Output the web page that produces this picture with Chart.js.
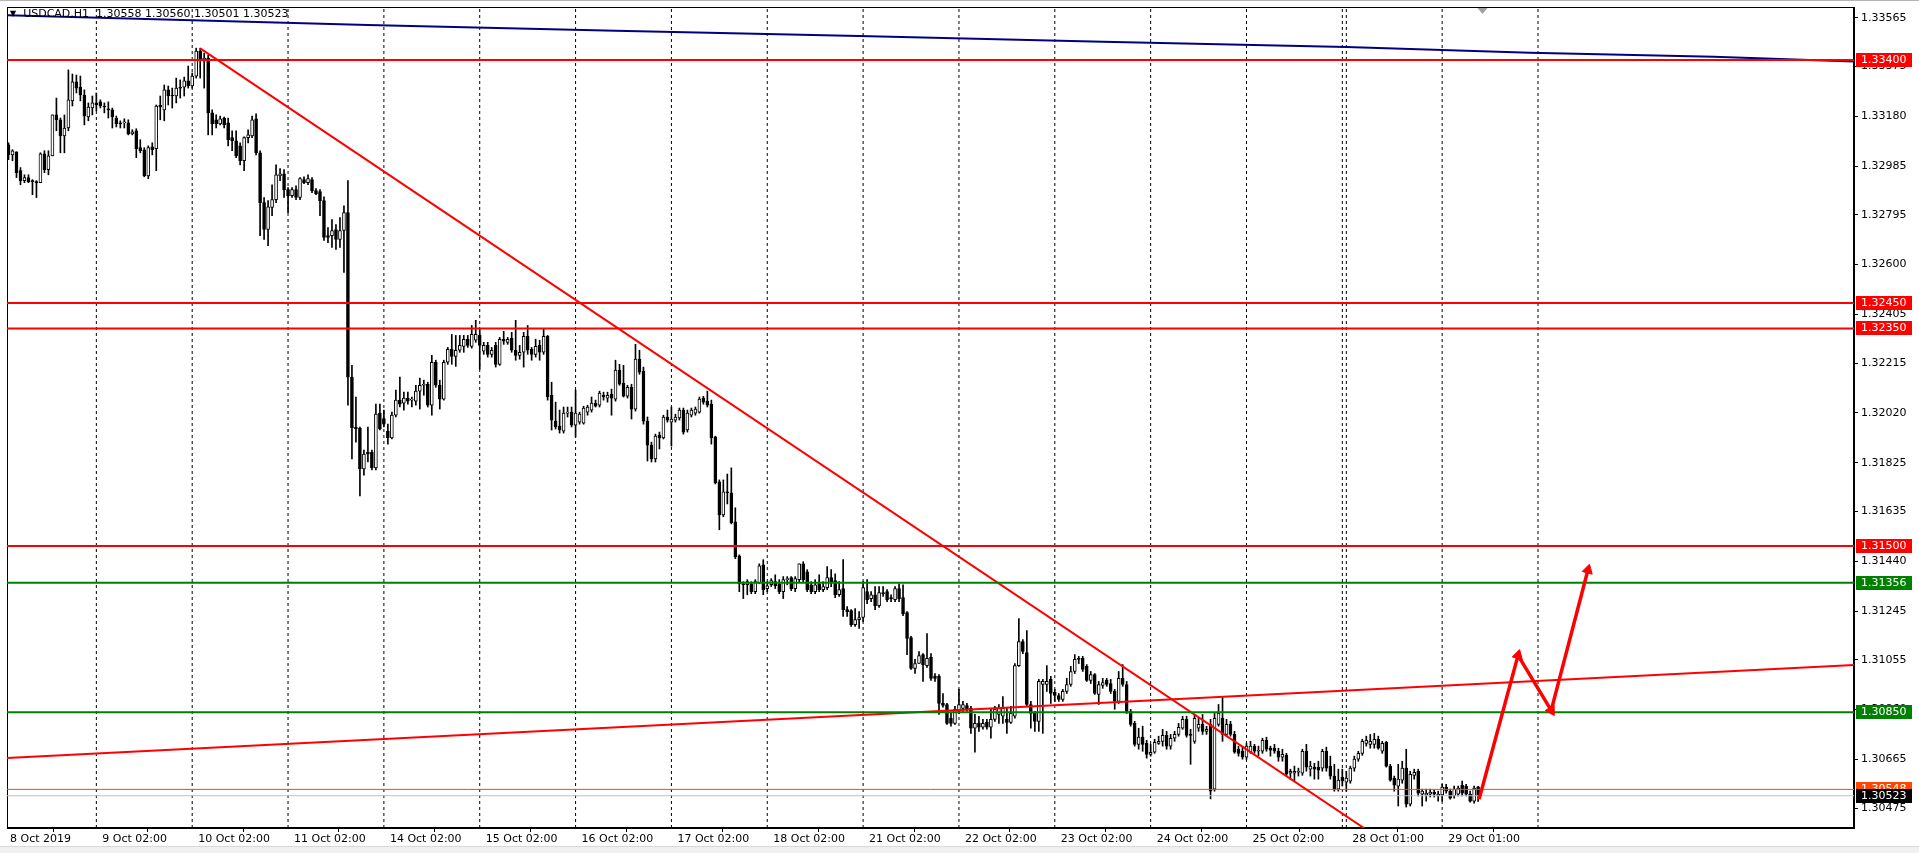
<!DOCTYPE html>
<html>
<head>
<meta charset="utf-8">
<script src="https://cdn.jsdelivr.net/npm/chart.js@4.4.0/dist/chart.umd.min.js"></script>
<style>
  html, body { margin: 0; padding: 0; background: #fff; }
  #wrap { position: relative; width: 1919px; height: 853px; overflow: hidden; }
  #title { position: absolute; left: 10px; top: 7px; font: 11px "DejaVu Sans"; color: #000; white-space: pre; line-height: 13px; }
  #title .tri { font-size: 8px; vertical-align: 1px; }
  #topline { position: absolute; left: 0; top: 0; width: 1919px; height: 1px; background: #b4b4b4; }
  #bottom { position: absolute; left: 0; top: 846px; width: 1919px; height: 7px; background: #f0f0f0; border-top: 1px solid #d8d8d8; }
</style>
</head>
<body>
<div id="wrap">
  <canvas id="chart" width="1919" height="853"></canvas>
  <div id="topline"></div>
  <div id="bottom"></div>
  <div id="title"><span class="tri">▼</span>  USDCAD,H1  1.30558 1.30560 1.30501 1.30523</div>
</div>
<script>
// USDCAD H1, 8 Oct 2019 02:00 .. 29 Oct 2019 (one entry per hourly bar)
const opens = [
1.33068,1.33029,1.33041,1.32967,1.32928,1.32940,1.32928,1.32924,1.32920,1.33033,
1.32971,1.33025,1.33185,1.33166,1.33103,1.33134,1.33240,1.33314,1.33294,1.33263,
1.33177,1.33212,1.33232,1.33236,1.33220,1.33209,1.33205,1.33173,1.33154,1.33154,
1.33154,1.33111,1.33123,1.33057,1.33049,1.32947,1.33060,1.33053,1.33224,1.33205,
1.33283,1.33263,1.33259,1.33294,1.33294,1.33318,1.33298,1.33337,1.33435,1.33396,
1.33407,1.33193,1.33166,1.33150,1.33173,1.33154,1.33096,1.33084,1.33064,1.33006,
1.33096,1.33103,1.33170,1.33037,1.32842,1.32737,1.32823,1.32854,1.32947,1.32955,
1.32893,1.32869,1.32893,1.32862,1.32932,1.32920,1.32932,1.32889,1.32885,1.32850,
1.32713,1.32713,1.32737,1.32698,1.32733,1.32803,1.32160,1.31965,1.31961,1.31801,
1.31867,1.31867,1.31805,1.32019,1.31998,1.31949,1.31922,1.32011,1.32070,1.32058,
1.32078,1.32070,1.32066,1.32105,1.32128,1.32132,1.32050,1.32218,1.32128,1.32074,
1.32218,1.32269,1.32241,1.32265,1.32280,1.32308,1.32280,1.32304,1.32323,1.32261,
1.32284,1.32249,1.32284,1.32210,1.32308,1.32296,1.32312,1.32265,1.32245,1.32257,
1.32319,1.32269,1.32249,1.32284,1.32257,1.32319,1.32089,1.31988,1.31968,1.31949,
1.32019,1.32023,1.31972,1.31984,1.31980,1.32023,1.32031,1.32058,1.32050,1.32089,
1.32078,1.32093,1.32074,1.32187,1.32136,1.32085,1.32120,1.32035,1.32230,1.32183,
1.31988,1.31894,1.31840,1.31933,1.31922,1.32004,1.31984,1.31992,1.32000,1.32031,
1.31953,1.32011,1.32019,1.32023,1.32078,1.32066,1.32054,1.31926,1.31750,1.31621,
1.31711,1.31707,1.31594,1.31461,1.31352,1.31348,1.31352,1.31321,1.31356,1.31426,
1.31333,1.31348,1.31360,1.31352,1.31321,1.31368,1.31376,1.31333,1.31368,1.31430,
1.31399,1.31348,1.31321,1.31352,1.31329,1.31337,1.31376,1.31364,1.31309,1.31333,
1.31251,1.31247,1.31192,1.31212,1.31220,1.31321,1.31294,1.31309,1.31266,1.31317,
1.31321,1.31298,1.31290,1.31333,1.31298,1.31239,1.31142,1.31021,1.31040,1.31075,
1.31032,1.31064,1.30990,1.30990,1.30884,1.30880,1.30826,1.30806,1.30853,1.30865,
1.30876,1.30865,1.30787,1.30806,1.30791,1.30810,1.30791,1.30822,1.30841,1.30834,
1.30822,1.30810,1.30834,1.31032,1.31126,1.31083,1.30880,1.30845,1.30814,1.30958,
1.30958,1.30978,1.30927,1.30915,1.30900,1.30931,1.30958,1.31009,1.31060,1.31060,
1.31029,1.30974,1.30997,1.30919,1.30954,1.30974,1.30962,1.30931,1.30892,1.30982,
1.30958,1.30853,1.30806,1.30724,1.30752,1.30728,1.30685,1.30693,1.30728,1.30736,
1.30759,1.30717,1.30748,1.30763,1.30787,1.30822,1.30763,1.30736,1.30787,1.30802,
1.30775,1.30802,1.30549,1.30802,1.30826,1.30763,1.30802,1.30763,1.30705,1.30697,
1.30674,1.30693,1.30717,1.30697,1.30697,1.30740,1.30709,1.30709,1.30697,1.30674,
1.30681,1.30611,1.30611,1.30615,1.30611,1.30697,1.30627,1.30635,1.30635,1.30631,
1.30697,1.30639,1.30600,1.30549,1.30596,1.30576,1.30580,1.30631,1.30666,1.30689,
1.30728,1.30724,1.30724,1.30744,1.30697,1.30732,1.30639,1.30592,1.30561,1.30584,
1.30631,1.30490,1.30603,1.30619,1.30529,1.30526,1.30529,1.30537,1.30522,1.30526,
1.30557,1.30541,1.30522,1.30529,1.30564,1.30561,1.30529,1.30502,1.30558
];
const highs = [
1.33076,1.33049,1.33041,1.32979,1.32951,1.32951,1.32932,1.32928,1.33037,1.33045,
1.33045,1.33185,1.33251,1.33173,1.33185,1.33361,1.33345,1.33341,1.33337,1.33283,
1.33232,1.33259,1.33271,1.33244,1.33232,1.33236,1.33212,1.33181,1.33162,1.33170,
1.33166,1.33127,1.33131,1.33088,1.33057,1.33064,1.33076,1.33224,1.33259,1.33302,
1.33298,1.33290,1.33329,1.33322,1.33333,1.33376,1.33349,1.33446,1.33446,1.33427,
1.33419,1.33205,1.33185,1.33181,1.33177,1.33173,1.33123,1.33123,1.33076,1.33099,
1.33127,1.33181,1.33189,1.33045,1.32862,1.32850,1.32912,1.32990,1.32975,1.32971,
1.32901,1.32901,1.32908,1.32940,1.32943,1.32951,1.32940,1.32897,1.32893,1.32865,
1.32745,1.32776,1.32756,1.32784,1.32830,1.32928,1.32206,1.32082,1.31965,1.31875,
1.31965,1.31875,1.32054,1.32054,1.32031,1.31976,1.32023,1.32109,1.32160,1.32101,
1.32101,1.32082,1.32128,1.32156,1.32148,1.32140,1.32245,1.32226,1.32148,1.32226,
1.32276,1.32327,1.32323,1.32323,1.32323,1.32323,1.32362,1.32382,1.32347,1.32296,
1.32296,1.32276,1.32296,1.32315,1.32339,1.32315,1.32335,1.32382,1.32284,1.32335,
1.32362,1.32276,1.32308,1.32304,1.32347,1.32323,1.32140,1.32062,1.32031,1.32043,
1.32043,1.32043,1.32109,1.32023,1.32046,1.32050,1.32082,1.32070,1.32105,1.32101,
1.32101,1.32113,1.32226,1.32210,1.32206,1.32128,1.32132,1.32288,1.32265,1.32199,
1.32004,1.31906,1.31937,1.31945,1.32011,1.32031,1.32043,1.32015,1.32039,1.32039,
1.32031,1.32039,1.32043,1.32082,1.32085,1.32105,1.32070,1.31929,1.31758,1.31758,
1.31781,1.31805,1.31649,1.31465,1.31360,1.31368,1.31360,1.31368,1.31430,1.31446,
1.31360,1.31372,1.31387,1.31368,1.31380,1.31380,1.31380,1.31380,1.31430,1.31438,
1.31407,1.31360,1.31368,1.31387,1.31360,1.31419,1.31407,1.31391,1.31360,1.31446,
1.31263,1.31251,1.31255,1.31243,1.31360,1.31368,1.31321,1.31341,1.31341,1.31341,
1.31329,1.31309,1.31341,1.31352,1.31348,1.31243,1.31146,1.31056,1.31087,1.31079,
1.31157,1.31079,1.31001,1.30997,1.30923,1.30884,1.30845,1.30873,1.30939,1.30892,
1.30884,1.30873,1.30841,1.30834,1.30822,1.30822,1.30865,1.30873,1.30880,1.30911,
1.30865,1.30873,1.31040,1.31216,1.31134,1.31169,1.30892,1.30853,1.30978,1.30978,
1.31032,1.30990,1.30939,1.30923,1.30939,1.30982,1.31029,1.31075,1.31068,1.31068,
1.31036,1.31009,1.31001,1.30970,1.30982,1.30982,1.30978,1.30939,1.31009,1.31036,
1.30970,1.30861,1.30814,1.30787,1.30795,1.30740,1.30724,1.30744,1.30756,1.30783,
1.30775,1.30763,1.30775,1.30806,1.30834,1.30834,1.30783,1.30841,1.30826,1.30841,
1.30795,1.30822,1.30845,1.30880,1.30911,1.30822,1.30814,1.30775,1.30717,1.30717,
1.30728,1.30736,1.30724,1.30717,1.30748,1.30752,1.30717,1.30724,1.30709,1.30705,
1.30689,1.30627,1.30639,1.30631,1.30705,1.30724,1.30658,1.30650,1.30658,1.30705,
1.30713,1.30678,1.30646,1.30627,1.30627,1.30619,1.30639,1.30678,1.30697,1.30744,
1.30756,1.30763,1.30767,1.30756,1.30736,1.30736,1.30646,1.30600,1.30646,1.30658,
1.30705,1.30619,1.30627,1.30627,1.30549,1.30549,1.30549,1.30545,1.30541,1.30568,
1.30568,1.30549,1.30561,1.30561,1.30580,1.30568,1.30541,1.30561,1.30560
];
const lows = [
1.33010,1.33006,1.32940,1.32912,1.32920,1.32920,1.32873,1.32862,1.32920,1.32959,
1.32951,1.33025,1.33123,1.33037,1.33037,1.33123,1.33220,1.33271,1.33240,1.33146,
1.33162,1.33185,1.33201,1.33212,1.33193,1.33173,1.33134,1.33138,1.33134,1.33134,
1.33107,1.33107,1.33018,1.33037,1.32943,1.32936,1.33029,1.32967,1.33166,1.33162,
1.33224,1.33212,1.33232,1.33251,1.33259,1.33290,1.33290,1.33329,1.33329,1.33290,
1.33107,1.33107,1.33134,1.33146,1.33134,1.33064,1.33045,1.33018,1.32990,1.32967,
1.33076,1.33096,1.33029,1.32713,1.32698,1.32674,1.32791,1.32842,1.32928,1.32862,
1.32803,1.32862,1.32854,1.32854,1.32916,1.32912,1.32881,1.32873,1.32791,1.32694,
1.32686,1.32667,1.32659,1.32667,1.32569,1.32050,1.31840,1.31906,1.31695,1.31777,
1.31828,1.31797,1.31797,1.31953,1.31965,1.31898,1.31918,1.32004,1.32043,1.32031,
1.32054,1.32043,1.32050,1.32035,1.32089,1.32043,1.32011,1.32120,1.32035,1.32070,
1.32210,1.32210,1.32202,1.32257,1.32257,1.32276,1.32273,1.32296,1.32191,1.32249,
1.32238,1.32238,1.32199,1.32206,1.32288,1.32288,1.32257,1.32226,1.32230,1.32199,
1.32249,1.32226,1.32238,1.32226,1.32249,1.32070,1.31953,1.31957,1.31941,1.31941,
1.32004,1.31965,1.31926,1.31976,1.31976,1.32011,1.32023,1.32043,1.32043,1.32070,
1.32062,1.32011,1.32066,1.32128,1.32082,1.32078,1.31996,1.32027,1.32171,1.31976,
1.31832,1.31828,1.31828,1.31879,1.31918,1.31984,1.31890,1.31984,1.31992,1.31937,
1.31945,1.32004,1.32011,1.32019,1.32054,1.32043,1.31898,1.31742,1.31563,1.31614,
1.31664,1.31586,1.31450,1.31321,1.31294,1.31309,1.31313,1.31313,1.31352,1.31309,
1.31321,1.31341,1.31333,1.31313,1.31294,1.31348,1.31325,1.31321,1.31360,1.31360,
1.31321,1.31313,1.31313,1.31321,1.31321,1.31329,1.31341,1.31298,1.31302,1.31224,
1.31224,1.31185,1.31185,1.31177,1.31204,1.31274,1.31282,1.31251,1.31259,1.31302,
1.31282,1.31282,1.31282,1.31282,1.31227,1.31075,1.31017,1.31001,1.31040,1.30970,
1.31025,1.30974,1.30970,1.30841,1.30869,1.30802,1.30795,1.30802,1.30845,1.30853,
1.30853,1.30767,1.30693,1.30775,1.30783,1.30783,1.30748,1.30814,1.30806,1.30806,
1.30767,1.30806,1.30826,1.31029,1.31079,1.30873,1.30787,1.30775,1.30775,1.30767,
1.30931,1.30884,1.30892,1.30892,1.30892,1.30923,1.30951,1.31001,1.31040,1.31009,
1.30970,1.30962,1.30919,1.30880,1.30943,1.30951,1.30923,1.30861,1.30884,1.30951,
1.30845,1.30795,1.30717,1.30705,1.30697,1.30670,1.30678,1.30689,1.30724,1.30717,
1.30705,1.30705,1.30736,1.30756,1.30783,1.30752,1.30646,1.30728,1.30775,1.30763,
1.30763,1.30511,1.30541,1.30795,1.30736,1.30756,1.30756,1.30689,1.30678,1.30666,
1.30666,1.30689,1.30689,1.30678,1.30689,1.30697,1.30678,1.30689,1.30658,1.30658,
1.30600,1.30588,1.30580,1.30600,1.30603,1.30619,1.30600,1.30588,1.30588,1.30619,
1.30619,1.30588,1.30541,1.30541,1.30561,1.30541,1.30572,1.30619,1.30658,1.30681,
1.30717,1.30709,1.30709,1.30705,1.30689,1.30635,1.30580,1.30541,1.30483,1.30572,
1.30479,1.30483,1.30588,1.30522,1.30483,1.30502,1.30518,1.30518,1.30502,1.30502,
1.30533,1.30510,1.30514,1.30522,1.30522,1.30522,1.30498,1.30494,1.30501
];
const closes = [
1.33029,1.33045,1.32959,1.32928,1.32940,1.32924,1.32924,1.32920,1.33033,1.32971,
1.33025,1.33185,1.33166,1.33103,1.33134,1.33244,1.33314,1.33290,1.33263,1.33181,
1.33216,1.33232,1.33224,1.33220,1.33216,1.33205,1.33177,1.33150,1.33150,1.33154,
1.33111,1.33119,1.33053,1.33045,1.32947,1.33057,1.33049,1.33220,1.33216,1.33283,
1.33259,1.33259,1.33290,1.33290,1.33318,1.33298,1.33337,1.33435,1.33396,1.33407,
1.33193,1.33150,1.33150,1.33170,1.33146,1.33088,1.33084,1.33025,1.33006,1.33096,
1.33107,1.33166,1.33037,1.32842,1.32737,1.32826,1.32854,1.32951,1.32955,1.32893,
1.32869,1.32893,1.32862,1.32936,1.32920,1.32936,1.32889,1.32877,1.32850,1.32706,
1.32706,1.32733,1.32698,1.32733,1.32803,1.32160,1.31961,1.31957,1.31801,1.31859,
1.31859,1.31805,1.32015,1.31957,1.31976,1.31922,1.32011,1.32070,1.32054,1.32078,
1.32066,1.32070,1.32105,1.32128,1.32132,1.32050,1.32218,1.32128,1.32074,1.32218,
1.32269,1.32241,1.32265,1.32284,1.32308,1.32284,1.32327,1.32327,1.32284,1.32284,
1.32249,1.32265,1.32210,1.32308,1.32300,1.32308,1.32265,1.32245,1.32257,1.32319,
1.32265,1.32249,1.32280,1.32257,1.32319,1.32082,1.31992,1.31965,1.31953,1.32019,
1.32023,1.31972,1.32019,1.32015,1.32039,1.32043,1.32058,1.32046,1.32097,1.32082,
1.32089,1.32078,1.32187,1.32132,1.32085,1.32120,1.32035,1.32230,1.32179,1.31988,
1.31894,1.31840,1.31929,1.31922,1.32004,1.31992,1.31996,1.32004,1.32031,1.31945,
1.32019,1.32031,1.32035,1.32074,1.32062,1.32050,1.31922,1.31746,1.31621,1.31711,
1.31707,1.31590,1.31458,1.31352,1.31348,1.31360,1.31321,1.31360,1.31422,1.31329,
1.31344,1.31364,1.31344,1.31321,1.31368,1.31368,1.31333,1.31372,1.31430,1.31368,
1.31329,1.31321,1.31348,1.31329,1.31341,1.31376,1.31360,1.31309,1.31329,1.31251,
1.31243,1.31192,1.31212,1.31220,1.31337,1.31290,1.31309,1.31266,1.31317,1.31313,
1.31290,1.31294,1.31333,1.31294,1.31235,1.31138,1.31021,1.31040,1.31071,1.31036,
1.31060,1.30982,1.30982,1.30884,1.30876,1.30806,1.30806,1.30861,1.30880,1.30880,
1.30861,1.30787,1.30806,1.30791,1.30806,1.30791,1.30822,1.30861,1.30865,1.30865,
1.30810,1.30845,1.31032,1.31126,1.31087,1.30880,1.30845,1.30814,1.30970,1.30970,
1.30970,1.30923,1.30915,1.30900,1.30931,1.30958,1.31009,1.31056,1.31056,1.31017,
1.30974,1.30997,1.30923,1.30958,1.30966,1.30958,1.30931,1.30892,1.30982,1.30958,
1.30853,1.30802,1.30724,1.30752,1.30724,1.30685,1.30693,1.30732,1.30736,1.30759,
1.30717,1.30748,1.30763,1.30791,1.30822,1.30759,1.30759,1.30826,1.30802,1.30775,
1.30783,1.30541,1.30826,1.30845,1.30763,1.30802,1.30763,1.30693,1.30689,1.30674,
1.30717,1.30717,1.30697,1.30701,1.30740,1.30705,1.30701,1.30697,1.30674,1.30685,
1.30607,1.30619,1.30619,1.30619,1.30697,1.30635,1.30639,1.30627,1.30623,1.30697,
1.30631,1.30600,1.30549,1.30584,1.30580,1.30592,1.30631,1.30666,1.30689,1.30736,
1.30740,1.30736,1.30744,1.30709,1.30728,1.30639,1.30584,1.30564,1.30588,1.30631,
1.30490,1.30607,1.30615,1.30533,1.30541,1.30533,1.30537,1.30529,1.30529,1.30557,
1.30541,1.30514,1.30549,1.30553,1.30533,1.30529,1.30502,1.30553,1.30523
];

// time axis: bar index of each day start (period separators) and the date labels
const daySeparators = [22, 46, 70, 94, 118, 142, 166, 190, 214, 238, 262, 286, 310, 334, 335, 359, 383];
const dateTickIdx = [-0.375, 22.75, 46.75, 70.75, 94.75, 118.75, 142.75, 166.75, 190.75, 214.75, 238.75, 262.75, 286.75, 310.75, 335.75, 359.75];
const dateTickLabels = ['8 Oct 2019', '9 Oct 02:00', '10 Oct 02:00', '11 Oct 02:00', '14 Oct 02:00', '15 Oct 02:00',
  '16 Oct 02:00', '17 Oct 02:00', '18 Oct 02:00', '21 Oct 02:00', '22 Oct 02:00', '23 Oct 02:00',
  '24 Oct 02:00', '25 Oct 02:00', '28 Oct 01:00', '29 Oct 01:00'];

// price axis
const priceTicks = [1.33565, 1.33375, 1.33180, 1.32985, 1.32795, 1.32600, 1.32405, 1.32215, 1.32020,
  1.31825, 1.31635, 1.31440, 1.31245, 1.31055, 1.30860, 1.30665, 1.30475];
const yMin = 1.30397, yMax = 1.33607;
const xMin = -0.375, xMax = 462.125;

// drawn objects
const levelPrices = [1.33400, 1.32450, 1.32350, 1.31500, 1.31356, 1.30850];
const levelColors = ['#ff0000', '#ff0000', '#ff0000', '#ff0000', '#008000', '#008000'];
const askPrice = 1.30548;
const bidPrice = 1.30523;
const maIdx = [-0.375, 90, 152, 213, 274, 335, 381, 427, 462.125];
const maValues = [1.33575, 1.33537, 1.33514, 1.33494, 1.33471, 1.33451, 1.33428, 1.33412, 1.33394];
const downTrendIdx = [48, 350];
const downTrendValues = [1.33445, 1.30286];
const upTrendIdx = [-0.375, 462.125];
const upTrendValues = [1.30671, 1.31034];
const arrowIdx = [368.25, 378, 386.3, 395.5];
const arrowValues = [1.30510, 1.31072, 1.30857, 1.31406];
const shiftMarkIdx = 369;

const FONT = { family: 'DejaVu Sans', size: 11 };

function pts(xs, ys) {
  return xs.map((x, i) => ({ x: x, y: ys[i] }));
}

function lineSet(data, color, width, order) {
  return {
    type: 'line', data: data, borderColor: color, borderWidth: width,
    pointRadius: 0, tension: 0, order: order, clip: 0
  };
}

// candles: wick = low..high, body = open..close
const wickData = closes.map((c, i) => ({
  x: i, y: [Math.min(lows[i], opens[i], c), Math.max(highs[i], opens[i], c)]
}));
const bodyData = closes.map((c, i) => ({ x: i, y: [opens[i], c] }));
const bodyFill = closes.map((c, i) => (c >= opens[i] ? '#ffffff' : '#000000'));

// period separators as vertical segments broken by nulls
const sepData = [];
daySeparators.forEach(s => {
  sepData.push({ x: s, y: yMin }, { x: s, y: yMax }, { x: s, y: null });
});

const datasets = [];
levelPrices.forEach((p, k) => {
  datasets.push(lineSet(pts([xMin, xMax], [p, p]), levelColors[k], 2, 1));
});
datasets.push(lineSet(pts([xMin, xMax], [askPrice, askPrice]), '#ff4500', 1, 2));
datasets.push(lineSet(pts([xMin, xMax], [bidPrice, bidPrice]), '#c0c0c0', 1, 2));
datasets.push(lineSet(pts(maIdx, maValues), '#000080', 2, 1));
datasets.push(lineSet(pts(downTrendIdx, downTrendValues), '#ff0000', 2, 1));
datasets.push(lineSet(pts(upTrendIdx, upTrendValues), '#ff0000', 2, 1));

const arrows = lineSet(pts(arrowIdx, arrowValues), '#ff0000', 3.5, 0);
arrows.pointStyle = 'triangle';
arrows.pointRadius = [0, 6, 6, 6];
arrows.pointRotation = [0, 15, 149, 15];
arrows.pointBackgroundColor = '#ff0000';
arrows.pointBorderColor = '#ff0000';
arrows.pointBorderWidth = 1;
datasets.push(arrows);

datasets.push({
  type: 'bar', data: bodyData, grouped: false, barThickness: 3, minBarLength: 1,
  backgroundColor: bodyFill, borderColor: '#000', borderWidth: 1, borderSkipped: false, order: 5
});
datasets.push({
  type: 'bar', data: wickData, grouped: false, barThickness: 1,
  backgroundColor: '#000', borderWidth: 0, order: 6
});
datasets.push({
  type: 'line', data: sepData, borderColor: '#000', borderWidth: 1, borderDash: [3, 3],
  pointRadius: 0, spanGaps: false, order: 7
});

// frame round the plot area
const frame = {
  id: 'frame',
  beforeDatasetsDraw(chart) {
    const { ctx, chartArea: a } = chart;
    ctx.save();
    ctx.strokeStyle = '#000';
    ctx.lineWidth = 1;
    ctx.strokeRect(a.left + 0.5, a.top + 0.5, a.right - a.left - 1, a.bottom - a.top - 1);
    ctx.restore();
  }
};

// coloured price tags on the right scale
const tagPrices = levelPrices.concat([askPrice, bidPrice]);
const tagColors = levelColors.concat(['#ff4500', '#000000']);
const priceTags = {
  id: 'priceTags',
  afterDraw(chart) {
    const { ctx, chartArea, scales } = chart;
    const x0 = chartArea.right + 2;
    ctx.save();
    ctx.font = '11px "DejaVu Sans"';
    ctx.textBaseline = 'middle';
    ctx.textAlign = 'left';
    tagPrices.forEach((p, k) => {
      const py = Math.round(scales.y.getPixelForValue(p));
      ctx.fillStyle = tagColors[k];
      ctx.fillRect(x0, py - 7, 56, 14);
      ctx.fillStyle = '#fff';
      ctx.fillText(p.toFixed(5), x0 + 5, py);
    });
    // chart shift marker
    const sx = Math.round(scales.x.getPixelForValue(shiftMarkIdx)) + 0.5;
    ctx.fillStyle = '#a0a0a0';
    ctx.beginPath();
    ctx.moveTo(sx - 5, chartArea.top + 1);
    ctx.lineTo(sx + 5, chartArea.top + 1);
    ctx.lineTo(sx, chartArea.top + 7);
    ctx.closePath();
    ctx.fill();
    ctx.restore();
  }
};

new Chart(document.getElementById('chart'), {
  type: 'bar',
  data: { datasets: datasets },
  options: {
    responsive: false,
    animation: false,
    devicePixelRatio: 1,
    layout: { padding: { left: 4, top: 4, right: 0, bottom: 0 } },
    plugins: { legend: { display: false }, tooltip: { enabled: false } },
    scales: {
      x: {
        type: 'linear', min: xMin, max: xMax, offset: false,
        afterBuildTicks: s => { s.ticks = dateTickIdx.map(v => ({ value: v })); },
        afterFit: s => { s.height = 25; s.paddingLeft = 0; s.paddingRight = 0; },
        grid: { drawOnChartArea: false, drawTicks: true, tickLength: 4, tickColor: '#000' },
        border: { color: '#000', width: 1 },
        ticks: {
          autoSkip: false, maxRotation: 0, minRotation: 0, align: 'start', labelOffset: 3,
          padding: 1, color: '#000', font: FONT,
          callback: (v, i) => dateTickLabels[i]
        }
      },
      y: {
        type: 'linear', position: 'right', min: yMin, max: yMax,
        afterBuildTicks: s => { s.ticks = priceTicks.map(v => ({ value: v })); },
        afterFit: s => { s.width = 65; s.paddingTop = 0; s.paddingBottom = 0; },
        grid: { drawOnChartArea: false, drawTicks: true, tickLength: 4, tickColor: '#000' },
        border: { color: '#000', width: 1 },
        ticks: {
          autoSkip: false, padding: 3, color: '#000', font: FONT,
          callback: v => v.toFixed(5)
        }
      }
    }
  },
  plugins: [frame, priceTags]
});
</script>
</body>
</html>
